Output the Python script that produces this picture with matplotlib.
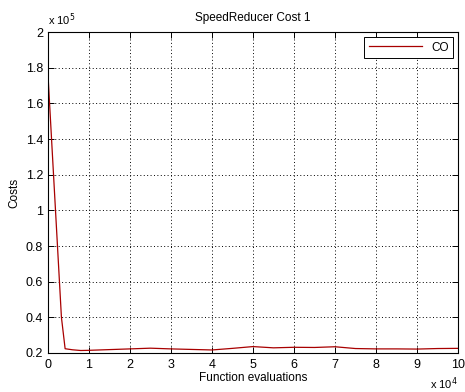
import matplotlib.pyplot as plt
from matplotlib.ticker import FuncFormatter

plt.rcParams["font.family"] = ["Liberation Sans", "DejaVu Sans"]
plt.rcParams["font.size"] = 8

# cost history of the optimiser (function evaluations, cost)
evals = [0, 3300, 4200, 6000, 8000, 10000, 15000, 20000, 25000, 30000, 35000,
         40000, 45000, 50000, 55000, 60000, 65000, 70000, 75000, 80000,
         85000, 90000, 95000, 100000]
costs = [177000, 40000, 22400, 21800, 21400, 21500, 21900, 22300, 22700,
         22300, 22000, 21700, 22600, 23600, 22900, 23200, 23100, 23500,
         22500, 22300, 22300, 22200, 22500, 22600]

series_label = "CO"
x_ticks = [0, 10000, 20000, 30000, 40000, 50000, 60000, 70000, 80000, 90000, 100000]
y_ticks = [20000, 40000, 60000, 80000, 100000, 120000, 140000, 160000, 180000, 200000]


def main():
    fig = plt.figure(figsize=(4.65, 3.92), dpi=100)
    ax = fig.add_axes([0.103, 0.0995, 0.882, 0.8185])

    ax.plot(evals, costs, color="#a80000", linewidth=0.9, label=series_label)

    ax.set_xlim(0, 100000)
    ax.set_ylim(20000, 200000)
    ax.set_xticks(x_ticks)
    ax.set_yticks(y_ticks)
    ax.xaxis.set_major_formatter(FuncFormatter(lambda v, p: "%g" % (v / 1e4)))
    ax.yaxis.set_major_formatter(FuncFormatter(lambda v, p: "%g" % (v / 1e5)))

    ax.tick_params(direction="in", length=4, width=0.7, top=True, right=True,
                   labelsize=9, colors="black")
    ax.tick_params(axis="x", pad=4)
    ax.grid(True, linestyle=(0, (1, 2.5)), color="black", linewidth=0.7)
    for s in ax.spines.values():
        s.set_linewidth(0.8)

    ax.text(0.0, 1.012, r"x 10$^5$", transform=ax.transAxes, fontsize=8,
            ha="left", va="bottom")
    ax.text(1.0, -0.11, r"x 10$^4$", transform=ax.transAxes, fontsize=8,
            ha="right", va="baseline")

    ax.set_title("SpeedReducer Cost 1", fontsize=8.5, pad=8)
    ax.set_xlabel("Function evaluations", fontsize=8.5, labelpad=1)
    ax.set_ylabel("Costs", fontsize=8.5, labelpad=4)

    leg = ax.legend(loc="upper right", fancybox=False, framealpha=1,
                    edgecolor="black", handlelength=4.5, borderpad=0.4,
                    fontsize=8.5, borderaxespad=0.4)
    leg.get_frame().set_linewidth(0.7)

    fig.savefig("out.png", dpi=100)


main()
